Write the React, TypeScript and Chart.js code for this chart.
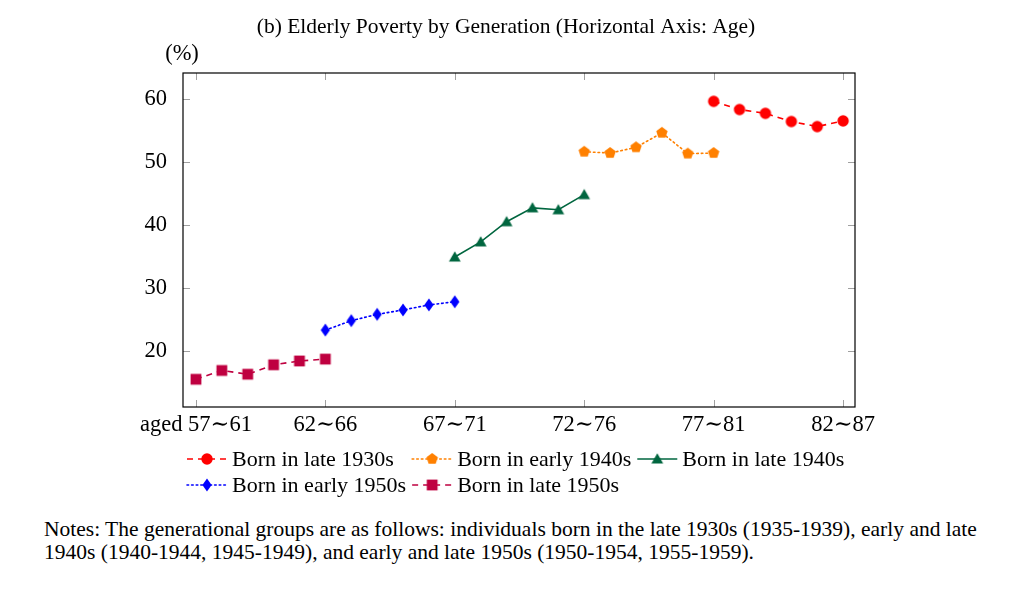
import React, { useEffect, useRef } from "react";
import { Chart, registerables } from "chart.js";

Chart.register(...registerables);

// ---------- data ----------
const tickAges = [57, 62, 67, 72, 77, 82];
const tickLabels = ["aged 57∼61", "62∼66", "67∼71", "72∼76", "77∼81", "82∼87"];
const yTicks = [20, 30, 40, 50, 60];

const agesLate1930s = [77, 78, 79, 80, 81, 82];
const late1930s = [59.6, 58.3, 57.7, 56.4, 55.6, 56.5];
const agesEarly1940s = [72, 73, 74, 75, 76, 77];
const early1940s = [51.6, 51.4, 52.3, 54.6, 51.3, 51.4];
const agesLate1940s = [67, 68, 69, 70, 71, 72];
const late1940s = [34.9, 37.3, 40.5, 42.7, 42.4, 44.8];
const agesEarly1950s = [62, 63, 64, 65, 66, 67];
const early1950s = [23.3, 24.8, 25.8, 26.5, 27.3, 27.8];
const agesLate1950s = [57, 58, 59, 60, 61, 62];
const late1950s = [15.5, 16.9, 16.3, 17.8, 18.4, 18.7];

const seriesNames = [
  "Born in late 1930s",
  "Born in early 1940s",
  "Born in late 1940s",
  "Born in early 1950s",
  "Born in late 1950s",
];

const titleText = "(b) Elderly Poverty by Generation (Horizontal Axis: Age)";
const unitText = "(%)";
const notesLines = [
  "Notes: The generational groups are as follows: individuals born in the late 1930s (1935-1939), early and late",
  "1940s (1940-1944, 1945-1949), and early and late 1950s (1950-1954, 1955-1959).",
];

// ---------- styles ----------
const FONT = '"Liberation Serif", "DejaVu Serif", serif';
const colors = ["#ff0000", "#ff8000", "#00663f", "#0000ff", "#bf0040"];
const dashes: number[][] = [[6, 5], [1.6, 3], [], [1.6, 3], [6, 5]];
const shapes = ["circle", "pentagon", "triangle", "diamond", "square"];

function makeMarker(shape: string, color: string): HTMLCanvasElement {
  const c = document.createElement("canvas");
  c.width = 16;
  c.height = 16;
  const g = c.getContext("2d")!;
  g.fillStyle = color;
  g.beginPath();
  const cx = 8, cy = 8;
  if (shape === "circle") {
    g.arc(cx, cy, 5.7, 0, Math.PI * 2);
  } else if (shape === "square") {
    g.rect(cx - 5.4, cy - 5.4, 10.8, 10.8);
  } else if (shape === "diamond") {
    g.moveTo(cx, cy - 6.5);
    g.lineTo(cx + 4.6, cy);
    g.lineTo(cx, cy + 6.5);
    g.lineTo(cx - 4.6, cy);
  } else if (shape === "pentagon") {
    const R = 6.0;
    for (let i = 0; i < 5; i++) {
      const a = -Math.PI / 2 + (i * 2 * Math.PI) / 5;
      const px = cx + R * Math.cos(a), py = cy + R * Math.sin(a);
      if (i === 0) g.moveTo(px, py); else g.lineTo(px, py);
    }
  } else if (shape === "triangle") {
    const R = 6.8;
    for (let i = 0; i < 3; i++) {
      const a = -Math.PI / 2 + (i * 2 * Math.PI) / 3;
      const px = cx + R * Math.cos(a), py = cy + 1 + R * Math.sin(a);
      if (i === 0) g.moveTo(px, py); else g.lineTo(px, py);
    }
  }
  g.closePath();
  g.fill();
  return c;
}

export default function App() {
  const ref = useRef<HTMLCanvasElement>(null);

  useEffect(() => {
    if (!ref.current) return;
    const markers = shapes.map((s, i) => makeMarker(s, colors[i]));
    const ageSets = [agesLate1930s, agesEarly1940s, agesLate1940s, agesEarly1950s, agesLate1950s];
    const valSets = [late1930s, early1940s, late1940s, early1950s, late1950s];

    const datasets = seriesNames.map((name, i) => ({
      label: name,
      data: ageSets[i].map((a, j) => ({ x: a, y: valSets[i][j] })),
      borderColor: colors[i],
      backgroundColor: colors[i],
      borderWidth: 1.6,
      borderDash: dashes[i],
      borderCapStyle: (i === 1 || i === 3 ? "round" : "butt") as CanvasLineCap,
      pointStyle: markers[i],
      pointRadius: 6,
      tension: 0,
      fill: false,
      clip: false as any,
    }));

    const decor = {
      id: "decor",
      afterDraw(chart: any) {
        const { ctx, chartArea: a, scales } = chart;
        ctx.save();
        // inward tick marks
        ctx.strokeStyle = "#a0a0a0";
        ctx.lineWidth = 1;
        ctx.setLineDash([]);
        const L = 7;
        tickAges.forEach((v) => {
          const x = Math.round(scales.x.getPixelForValue(v)) + 0.5;
          ctx.beginPath();
          ctx.moveTo(x, a.top); ctx.lineTo(x, a.top + L);
          ctx.moveTo(x, a.bottom); ctx.lineTo(x, a.bottom - L);
          ctx.stroke();
        });
        yTicks.forEach((v) => {
          const y = Math.round(scales.y.getPixelForValue(v)) + 0.5;
          ctx.beginPath();
          ctx.moveTo(a.left, y); ctx.lineTo(a.left + L, y);
          ctx.moveTo(a.right, y); ctx.lineTo(a.right - L, y);
          ctx.stroke();
        });
        // border
        ctx.strokeStyle = "#000";
        ctx.lineWidth = 1.2;
        ctx.strokeRect(a.left, a.top, a.right - a.left, a.bottom - a.top);

        // title
        ctx.fillStyle = "#000";
        ctx.textBaseline = "middle";
        ctx.textAlign = "center";
        ctx.font = `21.5px ${FONT}`;
        ctx.fillText(titleText, 506, 27);
        ctx.font = `22.5px ${FONT}`;
        ctx.fillText(unitText, 182, 54);

        // legend (3 columns x 2 rows)
        ctx.textAlign = "left";
        ctx.font = `22px ${FONT}`;
        const cols = 3;
        const sampleW = 40, textGap = 5, colGap = 6;
        const colX: number[] = [187];
        for (let c = 1; c < cols; c++) {
          let maxW = 0;
          for (let i = c - 1; i < seriesNames.length; i += cols) {
            maxW = Math.max(maxW, ctx.measureText(seriesNames[i]).width);
          }
          colX.push(colX[c - 1] + sampleW + textGap + maxW + colGap);
        }
        const rowY = [459, 485];
        seriesNames.forEach((name, i) => {
          const c = i % cols, r = Math.floor(i / cols);
          const x = colX[c], y = rowY[r];
          ctx.strokeStyle = colors[i];
          ctx.lineWidth = 1.6;
          ctx.setLineDash(dashes[i]);
          ctx.lineCap = i === 1 || i === 3 ? "round" : "butt";
          ctx.beginPath();
          ctx.moveTo(x, y);
          ctx.lineTo(x + sampleW, y);
          ctx.stroke();
          ctx.setLineDash([]);
          const m = markers[i];
          ctx.drawImage(m, x + sampleW / 2 - m.width / 2, y - m.height / 2);
          ctx.fillStyle = "#000";
          ctx.fillText(name, x + sampleW + textGap, y + 1);
        });
        ctx.restore();
      },
    };

    const chart = new Chart(ref.current, {
      type: "line",
      data: { datasets },
      options: {
        animation: false,
        responsive: false,
        layout: { padding: { top: 73, right: 165, bottom: 48, left: 0 } },
        plugins: { legend: { display: false }, tooltip: { enabled: false }, title: { display: false } },
        scales: {
          x: {
            type: "linear",
            min: 56.5,
            max: 82.46,
            grid: { display: false },
            border: { display: false },
            afterBuildTicks: (s: any) => { s.ticks = tickAges.map((v) => ({ value: v })); },
            afterFit: (s: any) => { s.height = 45; },
            ticks: {
              autoSkip: false,
              maxRotation: 0,
              padding: -3,
              color: "#000",
              font: { family: FONT, size: 22.5 },
              callback: (v: any) => {
                const k = tickAges.indexOf(Number(v));
                return k >= 0 ? tickLabels[k] : "";
              },
            },
          },
          y: {
            type: "linear",
            min: 11.1,
            max: 64.1,
            grid: { display: false },
            border: { display: false },
            afterBuildTicks: (s: any) => { s.ticks = yTicks.map((v) => ({ value: v })); },
            afterFit: (s: any) => { s.width = 183; },
            ticks: {
              padding: 8,
              color: "#000",
              font: { family: FONT, size: 22.5 },
            },
          },
        },
      },
      plugins: [decor],
    } as any);
    return () => chart.destroy();
  }, []);

  return (
    <div style={{ position: "absolute", left: 0, top: 0, width: 1020, height: 595, background: "#fff" }}>
      <canvas ref={ref} width={1020} height={500} style={{ display: "block", width: 1020, height: 500 }} />
      <div
        style={{
          position: "absolute",
          left: 44,
          top: 518,
          fontFamily: FONT,
          fontSize: 21.5,
          lineHeight: "23px",
          whiteSpace: "nowrap",
          color: "#000",
        }}
      >
        {notesLines.map((l, i) => (
          <div key={i}>{l}</div>
        ))}
      </div>
    </div>
  );
}
